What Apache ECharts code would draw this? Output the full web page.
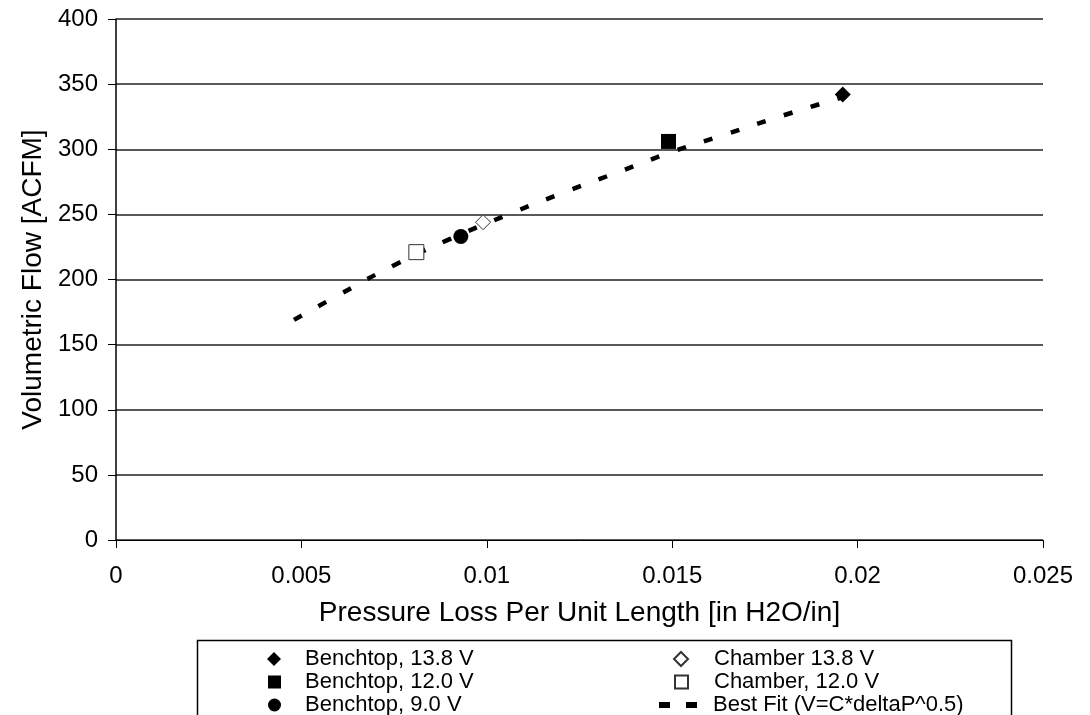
<!DOCTYPE html>
<html>
<head>
<meta charset="utf-8">
<script src="https://cdn.jsdelivr.net/npm/echarts@6/dist/echarts.min.js"></script>
<style>html,body{margin:0;padding:0;background:#fff;}#c{width:1090px;height:715px;}</style>
</head>
<body>
<div id="c"></div>
<script>
// Data
const benchtop138 = [[0.0196, 342]];
const benchtop120 = [[0.0149, 306]];
const benchtop90 = [[0.0093, 233]];
const chamber138 = [[0.0099, 244]];
const chamber120 = [[0.0081, 221]];
const bestFitX = [0.0048, 0.006, 0.0075, 0.009, 0.0105, 0.012, 0.0135, 0.015, 0.0165, 0.018, 0.0196];
const bestFitY = [169, 188, 211, 231, 249, 266, 282, 298, 312, 326, 340];
const xTicks = [0, 0.005, 0.01, 0.015, 0.02, 0.025];
const yTicks = [0, 50, 100, 150, 200, 250, 300, 350, 400];
const seriesNames = ['Benchtop, 13.8 V', 'Benchtop, 12.0 V', 'Benchtop, 9.0 V',
                     'Chamber 13.8 V', 'Chamber, 12.0 V', 'Best Fit (V=C*deltaP^0.5)'];

const FONT = '"Liberation Sans", Arial, sans-serif';
const chart = echarts.init(document.getElementById('c'), null, {renderer: 'canvas'});
const bestFit = bestFitX.map((x, i) => [x, bestFitY[i]]);

const rowY = [654, 677, 700];
function legendItem(name, left, row, w, h, padLeft, icon) {
  const item = {name: name};
  if (icon) item.icon = icon;
  return {
    orient: 'horizontal', left: left, top: rowY[row] - 11,
    itemWidth: w, itemHeight: h, selectedMode: false,
    textStyle: {fontFamily: FONT, fontSize: 22, lineHeight: 22, color: '#000', padding: [0, 0, 0, padLeft]},
    data: [item]
  };
}

chart.setOption({
  animation: false,
  backgroundColor: '#fff',
  grid: {left: 116, right: 47, top: 19, bottom: 175, containLabel: false},
  xAxis: {
    type: 'value', min: 0, max: 0.025, interval: 0.005,
    name: 'Pressure Loss Per Unit Length [in H2O/in]',
    nameLocation: 'middle', nameGap: 59,
    nameTextStyle: {fontFamily: FONT, fontSize: 28, color: '#000'},
    axisLine: {show: true, lineStyle: {color: '#000', width: 1}},
    axisTick: {show: true, length: 8, lineStyle: {color: '#000'}},
    axisLabel: {fontFamily: FONT, fontSize: 24, color: '#000', margin: 24,
      formatter: v => { const s = xTicks.find(t => Math.abs(t - v) < 1e-9); return s === undefined ? '' : String(+s.toFixed(3)); }},
    splitLine: {show: false}
  },
  yAxis: {
    type: 'value', min: 0, max: 400, interval: 50,
    name: 'Volumetric Flow [ACFM]',
    nameLocation: 'middle', nameGap: 67,
    nameTextStyle: {fontFamily: FONT, fontSize: 28, color: '#000'},
    axisLine: {show: true, lineStyle: {color: '#000', width: 1.5}},
    axisTick: {show: true, length: 8, lineStyle: {color: '#000'}},
    axisLabel: {fontFamily: FONT, fontSize: 24, color: '#000', margin: 18,
      formatter: v => yTicks.includes(v) ? String(v) : ''},
    splitLine: {show: true, lineStyle: {color: '#222', width: 1.5}}
  },
  legend: [
    legendItem(seriesNames[0], 262, 0, 14, 14, 19),
    legendItem(seriesNames[1], 263, 1, 13, 13, 19),
    legendItem(seriesNames[2], 263, 2, 13, 13, 19),
    legendItem(seriesNames[3], 668, 0, 14, 14, 21),
    legendItem(seriesNames[4], 669, 1, 13, 13, 21),
    legendItem(seriesNames[5], 654, 2, 38, 6, 11, 'path://M0,0h11v6h-11z M27,0h11v6h-11z')
  ],
  graphic: [{
    type: 'rect', left: 195, top: 638, z: 100, silent: true,
    shape: {width: 814, height: 90},
    style: {fill: 'none', stroke: '#000', lineWidth: 1.5}
  }],
  series: [
    {
      name: seriesNames[5], type: 'line', data: bestFit, smooth: true,
      symbol: 'none', z: 3,
      lineStyle: {color: '#000', width: 4.5, type: [9, 19]},
      itemStyle: {color: '#000', opacity: 1}
    },
    {name: seriesNames[0], type: 'scatter', data: benchtop138, symbol: 'diamond', symbolSize: 16, z: 4,
      itemStyle: {color: '#000', opacity: 1}},
    {name: seriesNames[1], type: 'scatter', data: benchtop120, symbol: 'rect', symbolSize: 15, z: 4,
      itemStyle: {color: '#000', opacity: 1}},
    {name: seriesNames[2], type: 'scatter', data: benchtop90, symbol: 'circle', symbolSize: 15, z: 4,
      itemStyle: {color: '#000', opacity: 1}},
    {name: seriesNames[3], type: 'scatter', data: chamber138, symbol: 'diamond', symbolSize: 15, z: 4,
      itemStyle: {color: '#fff', borderColor: '#333', borderWidth: 1, opacity: 1}},
    {name: seriesNames[4], type: 'scatter', data: chamber120, symbol: 'rect', symbolSize: 15, z: 4,
      itemStyle: {color: '#fff', borderColor: '#333', borderWidth: 1, opacity: 1}}
  ]
});
</script>
</body>
</html>
